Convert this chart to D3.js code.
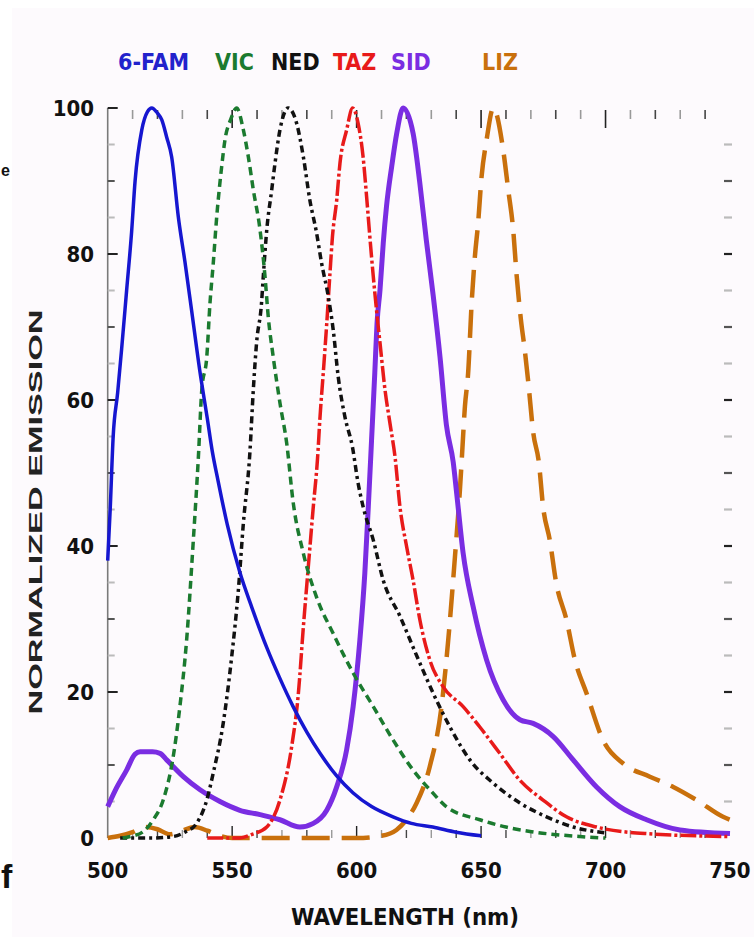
<!DOCTYPE html>
<html>
<head>
<meta charset="utf-8">
<script src="https://cdn.jsdelivr.net/npm/d3@7"></script>
<style>
  html, body { margin: 0; padding: 0; background: #ffffff; }
  svg { display: block; }
  text { font-family: 'Liberation Sans Narrow', 'Arial Narrow', 'DejaVu Sans Condensed', sans-serif; font-weight: bold; }
</style>
</head>
<body>
<svg id="chart" width="754" height="937"></svg>
<script>
// ---- data (wavelength nm, normalized emission) ----
const dyes = ["6-FAM", "VIC", "NED", "TAZ", "SID", "LIZ"];
const famData = [[500,38],[501,45],[502.2,55],[504,61],[505.6,67],[507.6,75],[509.6,83],[511,90],[513.7,97],[516,99.5],[517.7,100],[520,99.3],[521.7,98.4],[523.7,96],[525.7,93.3],[528.4,85],[531,79],[533.7,72.3],[537,64],[540,57.5],[542,53],[544.3,49],[548,43],[553,36.5],[558,31.5],[564,26],[569,22],[574.5,18],[580,14.5],[585.3,11.6],[592,8.5],[598.5,6.2],[606,4.3],[614.6,2.9],[622,2],[630.6,1.5],[640,0.8],[650,0.3]];
const vicData = [[506,0],[509,0.2],[514,0.8],[518.3,2.5],[522.3,5.2],[526.3,11.1],[529,18],[531.7,27.1],[534.4,40.8],[536.4,52],[537.8,61.4],[539.8,65.9],[541.1,73.3],[542.4,78.7],[543.8,85.1],[545.8,92],[547.1,95.6],[549.5,98.5],[551.8,100],[554.5,97],[556.5,93.3],[558.5,88.8],[561.2,83.3],[563.2,76.9],[564.5,71.4],[566.5,65.9],[569.2,59.6],[571.9,54.1],[574.5,46],[578.6,39],[583.9,33],[590.6,28],[598.6,22.6],[606.7,18],[614.7,13.4],[622.7,9.3],[630,6.4],[636,4.3],[649.5,2.5],[660,1.5],[669.6,0.9],[689.7,0.2],[700,0]];
const nedData = [[505,0],[518,0],[526.3,0.2],[531,0.8],[535.7,2],[539.8,5.2],[542.4,8.9],[546.4,15.7],[549.8,24.8],[552.5,34],[554.5,43.1],[557.1,52.7],[558.5,61.4],[559.8,67.8],[561.8,73.3],[562.5,76.9],[563.9,83.3],[565.9,88.8],[567.2,92.4],[569.2,97],[572.5,100],[575.9,97.9],[578.6,93.3],[581.2,87.4],[583.9,82.9],[585.9,78.8],[588.6,74.2],[590.6,69.6],[592.6,63.2],[595.3,57.7],[598.3,53.6],[600.6,48.6],[602.6,45.4],[606.7,40.8],[610.7,35.3],[617.4,30.4],[624.1,25],[630.8,19.8],[637.5,15.2],[645.5,10.7],[654.9,7.5],[665.6,4.8],[676.3,2.9],[687,1.5],[700,0.7]];
const tazData = [[540,0],[553,0],[558,0.5],[563.9,1.5],[569.2,5.2],[573.9,12.5],[576.6,19.8],[578.6,28.9],[580.6,37.2],[582.6,45.4],[584.3,52],[585.3,57.7],[586.6,63.7],[588,70.5],[589.3,77.4],[590.3,82.4],[592,87.4],[593.3,92.4],[596,97],[598.4,100],[600.6,97.9],[602.6,93.3],[604,87.9],[605.3,82.4],[606.7,76.9],[608,72.3],[609.4,67.8],[611.4,61.4],[613.4,56.8],[615.5,52],[617.4,45.4],[620.1,39.9],[622.7,35.3],[625.4,29.9],[629.4,24.4],[634.8,20.7],[642.8,18],[649.5,15.2],[657.5,11.6],[665.6,7.9],[674.9,5.2],[684.3,2.9],[696.4,1.5],[716.5,0.6],[750,0.2]];
const sidData = [[500,4.3],[503,6.5],[507.6,9.3],[511,11.5],[513,11.8],[518,11.8],[521,11.6],[523.7,10.7],[530.4,8.4],[537.1,6.6],[545.1,5],[553.1,3.8],[561.2,3.2],[569.2,2.5],[577.2,1.5],[582.6,2],[588,3.8],[592,7],[596,12.1],[598.6,18],[601.3,27.1],[603.3,36.3],[604.7,45.4],[606,54.5],[607.3,63.7],[608.2,70.5],[609.4,75.1],[610.7,81.5],[612,86.5],[614.1,92],[616.1,96.5],[618.7,100],[622.7,96.5],[625.4,89.7],[628,81.9],[630.8,74.2],[633.5,65.9],[636.1,56.5],[638.8,51.5],[640.2,47.2],[642.8,39],[646.8,31.7],[652.2,24.4],[658.9,18.9],[665.6,16.2],[670.9,15.7],[679,13.9],[687,10.7],[696.4,7],[705.7,4.3],[716.5,2.5],[729.9,1.1],[750,0.6]];
const lizData = [[500,0],[505,0.3],[510,0.8],[515,1.5],[520,1.2],[525,0.5],[530,1],[535,1.5],[540,1],[545,0.3],[550,0],[600,0],[610,0.3],[616,1.1],[620,2.5],[624.1,4.8],[629.4,9.8],[634.1,18],[636.8,27.1],[639.5,38.5],[641.5,47.7],[642.3,52.2],[643.5,59.1],[644.8,63.7],[646.2,73.2],[647.5,79.6],[648.8,84.2],[650.2,90.6],[652.2,95.6],[654.9,100],[658.9,94.2],[660.9,88.8],[662.9,83.3],[664.3,77],[666,71],[667.5,67],[669,62.3],[671,55.4],[673.2,51.5],[674.9,45.4],[677.6,40.8],[680.2,34.9],[684.3,29.9],[687.7,24.4],[692.4,19.8],[699,13.4],[707.1,10.2],[717.8,8.4],[727.2,7],[736.6,5.2],[747.2,2.9],[750,2.5]];
const xTickLabels = [500, 550, 600, 650, 700, 750];
const yTickLabels = [0, 20, 40, 60, 80, 100];

const series = [
  { name: "LIZ",   data: lizData, color: "#c9700c", width: 4.5, dash: "28,12" },
  { name: "SID",   data: sidData, color: "#7a2de2", width: 5,   dash: null },
  { name: "TAZ",   data: tazData, color: "#e81a1a", width: 3.5, dash: "16,3,3,3" },
  { name: "NED",   data: nedData, color: "#111111", width: 3.5, dash: "7,4,3,4" },
  { name: "VIC",   data: vicData, color: "#1b7a2f", width: 3.5, dash: "8,5" },
  { name: "6-FAM", data: famData, color: "#1616d0", width: 3.5, dash: null }
];
const legendColors = { "6-FAM": "#2222cc", "VIC": "#1b7a2f", "NED": "#111111", "TAZ": "#e81a1a", "SID": "#7a2de2", "LIZ": "#c9700c" };
const legendX = { "6-FAM": 118, "VIC": 215, "NED": 271, "TAZ": 333, "SID": 391, "LIZ": 482 };

const svg = d3.select("#chart");
svg.append("rect").attr("x", 12).attr("y", 8).attr("width", 742).attr("height", 929).attr("fill", "#fdfafd");

const x = d3.scaleLinear().domain([500, 750]).range([107.7, 730]);
const y = d3.scaleLinear().domain([0, 100]).range([838, 108]);

// left axis line
svg.append("line").attr("x1", x(500)).attr("x2", x(500)).attr("y1", y(0)).attr("y2", y(100))
  .attr("stroke", "#7a7a7a").attr("stroke-width", 1.6);

// y ticks (inward on left, stubs on right)
const yMinor = d3.range(0, 101, 5);
yMinor.forEach(v => {
  const major = v % 20 === 0;
  const ten = v % 10 === 0;
  const col = major ? "#222" : (ten ? "#555" : "#bbb");
  if (v > 0) {
    svg.append("line").attr("x1", x(500)).attr("x2", x(500) + (major ? 10 : 7))
      .attr("y1", y(v)).attr("y2", y(v)).attr("stroke", col).attr("stroke-width", 2);
  }
  if (v > 0 && v < 100) {
    svg.append("line").attr("x1", 724).attr("x2", 732)
      .attr("y1", y(v)).attr("y2", y(v)).attr("stroke", col).attr("stroke-width", 2.2);
  }
});

// x ticks on top and bottom, every 10 nm
d3.range(510, 750, 10).forEach(w => {
  const major = w % 50 === 0;
  const col = major ? "#222" : (w % 20 === 0 ? "#444" : "#999");
  svg.append("line").attr("x1", x(w)).attr("x2", x(w)).attr("y1", 110).attr("y2", major ? 128 : 119)
    .attr("stroke", col).attr("stroke-width", 1.6);
  svg.append("line").attr("x1", x(w)).attr("x2", x(w)).attr("y1", y(0)).attr("y2", y(0) - (major ? 12 : 8))
    .attr("stroke", col).attr("stroke-width", 1.4);
});

// tick labels
svg.selectAll(".ylab").data(yTickLabels).enter().append("text")
  .attr("x", 94).attr("y", d => y(d) + 8).attr("text-anchor", "end")
  .attr("font-size", 22).attr("fill", "#111").text(d => d);
svg.selectAll(".xlab").data(xTickLabels).enter().append("text")
  .attr("x", d => x(d)).attr("y", 878).attr("text-anchor", "middle")
  .attr("font-size", 22).attr("fill", "#111").text(d => d);

// axis titles
svg.append("text").attr("transform", "translate(42,512) rotate(-90)")
  .attr("text-anchor", "middle").attr("font-size", 19).attr("fill", "#222")
  .style("font-family", "'Liberation Sans', Arial, sans-serif")
  .attr("textLength", 405).attr("lengthAdjust", "spacingAndGlyphs")
  .text("NORMALIZED EMISSION");
svg.append("text").attr("x", 405).attr("y", 925).attr("text-anchor", "middle")
  .attr("font-size", 23).attr("fill", "#111")
  .attr("textLength", 228).attr("lengthAdjust", "spacingAndGlyphs")
  .text("WAVELENGTH (nm)");

// legend labels
dyes.forEach(d => {
  svg.append("text").attr("x", legendX[d]).attr("y", 70)
    .attr("font-size", 23).attr("fill", legendColors[d]).text(d);
});

// stray text fragments at left edge
svg.append("text").attr("x", 1).attr("y", 176).attr("font-size", 16).attr("fill", "#111")
  .style("font-family", "'Liberation Sans', Arial, sans-serif").text("e");
svg.append("text").attr("x", 1).attr("y", 888).attr("font-size", 34).attr("fill", "#111")
  .style("font-family", "'Liberation Sans', Arial, sans-serif").text("f");

// curves
const line = d3.line().x(d => x(d[0])).y(d => y(d[1])).curve(d3.curveMonotoneX);
series.forEach(s => {
  svg.append("path").datum(s.data).attr("d", line)
    .attr("fill", "none").attr("stroke", s.color).attr("stroke-width", s.width)
    .attr("stroke-dasharray", s.dash).attr("stroke-linejoin", "round");
});
</script>
</body>
</html>
